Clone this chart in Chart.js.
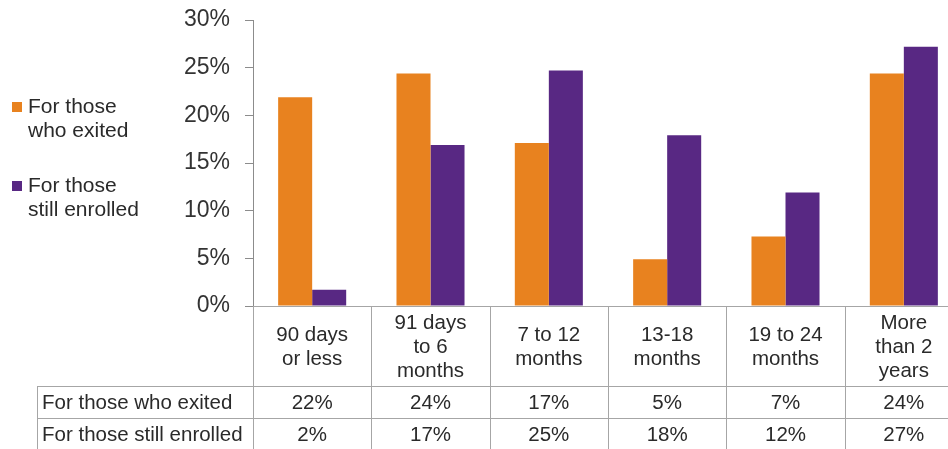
<!DOCTYPE html>
<html>
<head>
<meta charset="utf-8">
<script src="https://cdn.jsdelivr.net/npm/chart.js@4"></script>
<style>
  html, body { margin: 0; padding: 0; background: #fff; overflow: hidden; }
  #wrap { width: 970px; height: 449px; }
</style>
</head>
<body>
<div id="wrap"><canvas id="chart" width="970" height="449"></canvas></div>
<script>
// Chart data
const categories = [
    ['90 days', 'or less'],
    ['91 days', 'to 6', 'months'],
    ['7 to 12', 'months'],
    ['13-18', 'months'],
    ['19 to 24', 'months'],
    ['More', 'than 2', 'years']
];
const seriesNames = ['For those who exited', 'For those still enrolled'];
const legendLines = [['For those', 'who exited'], ['For those', 'still enrolled']];
const exited = [21.9, 24.4, 17.1, 4.9, 7.3, 24.4];
const enrolled = [1.7, 16.9, 24.7, 17.9, 11.9, 27.2];
const exitedTable = ['22%', '24%', '17%', '5%', '7%', '24%'];
const enrolledTable = ['2%', '17%', '25%', '18%', '12%', '27%'];
const colors = ['#E8821F', '#582883'];

const FONT = '"Liberation Sans", Arial, sans-serif';
const TEXT = '#2a2a2a';
const LINE = '#a6a6a6';

// Legend on the left, two-line labels
const legendPlugin = {
    id: 'sideLegend',
    afterDraw(chart) {
        const ctx = chart.ctx;
        const tops = [107, 186];
        ctx.save();
        ctx.font = '21px ' + FONT;
        ctx.textBaseline = 'middle';
        ctx.textAlign = 'left';
        legendLines.forEach((lines, i) => {
            ctx.fillStyle = chart.data.datasets[i].backgroundColor;
            ctx.fillRect(12, tops[i] - 5, 10, 10);
            ctx.fillStyle = TEXT;
            lines.forEach((t, j) => ctx.fillText(t, 28, tops[i] + j * 24));
        });
        ctx.restore();
    }
};

// Data table under the plot
const tablePlugin = {
    id: 'dataTable',
    afterDraw(chart) {
        const ctx = chart.ctx;
        const x = chart.scales.x;
        const area = chart.chartArea;
        const n = categories.length;
        const step = (area.right - area.left) / n;
        const rowTop = 386, rowMid = 418, rowBot = 450;
        const tableLeft = 37;

        ctx.save();
        ctx.strokeStyle = LINE;
        ctx.lineWidth = 1;
        ctx.beginPath();
        // horizontal lines
        ctx.moveTo(area.left, area.bottom + 0.5); ctx.lineTo(area.right, area.bottom + 0.5);
        ctx.moveTo(tableLeft, rowTop + 0.5); ctx.lineTo(area.right, rowTop + 0.5);
        ctx.moveTo(tableLeft, rowMid + 0.5); ctx.lineTo(area.right, rowMid + 0.5);
        // vertical lines
        ctx.moveTo(tableLeft + 0.5, rowTop); ctx.lineTo(tableLeft + 0.5, rowBot);
        for (let i = 0; i <= n; i++) {
            const bx = Math.round(area.left + i * step) + 0.5;
            ctx.moveTo(bx, area.bottom); ctx.lineTo(bx, rowBot);
        }
        ctx.stroke();

        ctx.fillStyle = TEXT;
        ctx.font = '20.5px ' + FONT;
        ctx.textBaseline = 'middle';

        // row headers
        ctx.textAlign = 'left';
        ctx.fillText(seriesNames[0], 42, (rowTop + rowMid) / 2 + 1);
        ctx.fillText(seriesNames[1], 42, (rowMid + rowBot) / 2 + 1);

        ctx.textAlign = 'center';
        const lh = 24;
        categories.forEach((lines, i) => {
            const cx = x.getPixelForValue(i);
            const mid = (area.bottom + rowTop) / 2 + 1;
            const start = mid - (lines.length - 1) * lh / 2;
            lines.forEach((t, j) => ctx.fillText(t, cx, start + j * lh));
            ctx.fillText(exitedTable[i], cx, (rowTop + rowMid) / 2 + 1);
            ctx.fillText(enrolledTable[i], cx, (rowMid + rowBot) / 2 + 1);
        });
        ctx.restore();
    }
};

function initializeChart() {
    const ctx = document.getElementById('chart').getContext('2d');
    new Chart(ctx, {
        type: 'bar',
        data: {
            labels: categories,
            datasets: [
                { label: seriesNames[0], data: exited, backgroundColor: colors[0] },
                { label: seriesNames[1], data: enrolled, backgroundColor: colors[1] }
            ]
        },
        options: {
            responsive: false,
            animation: false,
            events: [],
            layout: { padding: { top: 20, right: 7, left: 0, bottom: 0 } },
            datasets: {
                bar: { categoryPercentage: 0.575, barPercentage: 1.0, borderWidth: 0 }
            },
            plugins: {
                legend: { display: false },
                tooltip: { enabled: false }
            },
            scales: {
                x: {
                    grid: { display: false },
                    border: { display: false },
                    ticks: { display: false },
                    afterFit: s => { s.height = 143; }
                },
                y: {
                    min: 0,
                    max: 30,
                    ticks: {
                        stepSize: 5,
                        padding: 15,
                        color: '#333',
                        font: { family: FONT, size: 23 },
                        callback: v => v + '%'
                    },
                    grid: {
                        drawOnChartArea: false,
                        drawTicks: true,
                        tickLength: 8,
                        color: '#8c8c8c'
                    },
                    border: { display: true, color: '#8c8c8c' },
                    afterFit: s => {
                        s.width = 253;
                        s.paddingTop = 0;
                        s.paddingBottom = 0;
                    }
                }
            }
        },
        plugins: [legendPlugin, tablePlugin]
    });
}

document.addEventListener('DOMContentLoaded', initializeChart);
</script>
</body>
</html>
